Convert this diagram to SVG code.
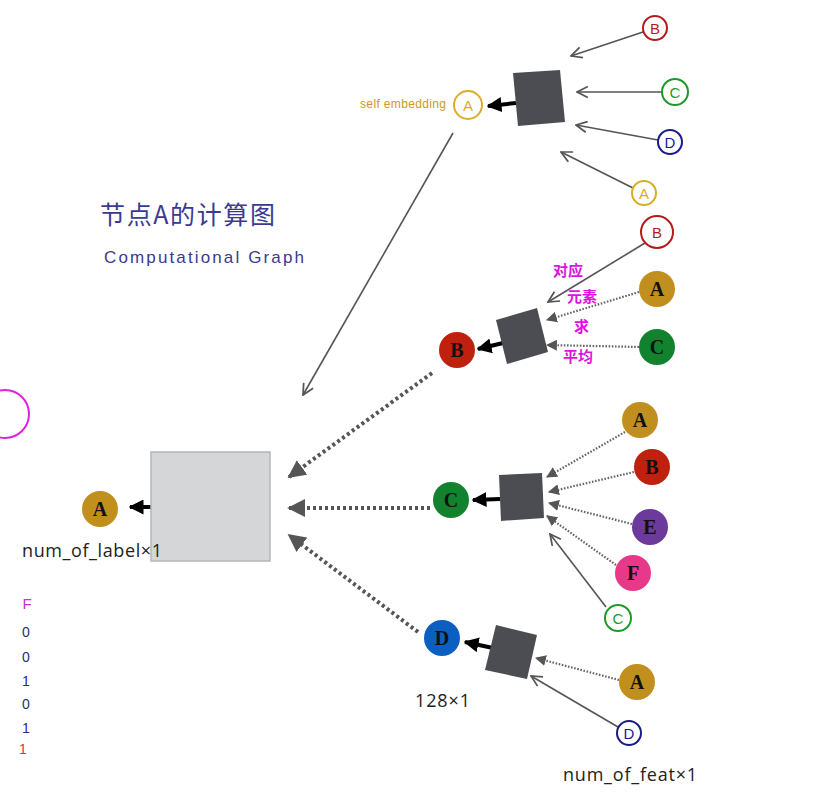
<svg xmlns="http://www.w3.org/2000/svg" width="835" height="804" viewBox="0 0 835 804">
<style>
.hol{fill:#fff;stroke-width:2}
.hl{font-family:"Liberation Sans",Arial,sans-serif;font-size:15px;text-anchor:middle;dominant-baseline:central}
.fl{font-family:"Liberation Serif","Times New Roman",serif;font-weight:bold;font-size:20px;text-anchor:middle;dominant-baseline:central;fill:#111}
.sq{fill:#4b4d53}
.thin{stroke:#555;stroke-width:1.6;fill:none;marker-end:url(#chev)}
.dot{stroke:#666;stroke-width:2.2;stroke-dasharray:1.6 1.6;fill:none;marker-end:url(#tri)}
.big{stroke:#555;stroke-width:4;stroke-dasharray:3 3;fill:none;marker-end:url(#bigtri)}
.out{stroke:#000;stroke-width:4;fill:none;marker-end:url(#blk)}
.lab{font-family:"Open Sans","Noto Sans",sans-serif;font-size:18px;fill:#222}
.mg{font-family:"Noto Sans CJK SC",sans-serif;font-size:15px;fill:#e010e0;font-weight:bold}
.col{font-family:"Liberation Sans",sans-serif;font-size:14px;fill:#2a2a80;text-anchor:middle}
</style>
<defs>
<marker id="chev" viewBox="0 0 12 12" refX="11" refY="6" markerWidth="13" markerHeight="13" markerUnits="userSpaceOnUse" orient="auto"><path d="M1,1 L11,6 L1,11" fill="none" stroke="#555" stroke-width="1.6"/></marker>
<marker id="tri" viewBox="0 0 10 10" refX="9" refY="5" markerWidth="11" markerHeight="11" markerUnits="userSpaceOnUse" orient="auto"><path d="M0,0 L10,5 L0,10 z" fill="#555"/></marker>
<marker id="bigtri" viewBox="0 0 10 10" refX="9" refY="5" markerWidth="18" markerHeight="18" markerUnits="userSpaceOnUse" orient="auto"><path d="M0,0 L10,5 L0,10 z" fill="#555"/></marker>
<marker id="blk" viewBox="0 0 10 10" refX="9" refY="5" markerWidth="15" markerHeight="15" markerUnits="userSpaceOnUse" orient="auto"><path d="M0,0 L10,5 L0,10 z" fill="#000"/></marker>
</defs>
<rect width="835" height="804" fill="#fff"/>

<g id="connectors">
<line class="thin" x1="643" y1="32" x2="571" y2="56"/>
<line class="thin" x1="662" y1="92" x2="577" y2="92"/>
<line class="thin" x1="658" y1="140" x2="576" y2="125"/>
<line class="thin" x1="633" y1="188" x2="561" y2="152"/>
<line class="out" x1="516" y1="103" x2="488" y2="106"/>
<line class="thin" x1="453" y1="133" x2="303" y2="395"/>

<line class="thin" x1="645" y1="243" x2="548" y2="302"/>
<line class="dot" x1="639" y1="292" x2="547" y2="320"/>
<line class="dot" x1="639" y1="347" x2="547" y2="345"/>
<line class="out" x1="503" y1="343" x2="478" y2="349"/>

<line class="dot" x1="625" y1="432" x2="547" y2="477"/>
<line class="dot" x1="634" y1="472" x2="549" y2="492"/>
<line class="dot" x1="632" y1="524" x2="549" y2="503"/>
<line class="dot" x1="616" y1="565" x2="547" y2="516"/>
<line class="thin" x1="606" y1="607" x2="550" y2="534"/>
<line class="out" x1="500" y1="499" x2="473" y2="500"/>

<line class="dot" x1="619" y1="680" x2="536" y2="658"/>
<line class="thin" x1="618" y1="727" x2="531" y2="676"/>
<line class="out" x1="493" y1="648" x2="465" y2="642"/>

<line class="big" x1="432" y1="373" x2="289" y2="477"/>
<line class="big" x1="430" y1="508" x2="289" y2="508"/>
<line class="big" x1="418" y1="632" x2="289" y2="535"/>
<line class="out" x1="151" y1="507" x2="130" y2="507"/>
</g>

<g id="top-agg"><polygon class="sq" points="513,73 560,70 565,122 518,126"/></g>
<g id="top-A"><circle class="hol" cx="468" cy="105" r="14" stroke="#d9ad2a"/><text class="hl" x="468" y="105" fill="#d9ad2a">A</text></g>
<g id="top-B"><circle class="hol" cx="655" cy="28" r="12" stroke="#b31b1b"/><text class="hl" x="655" y="28" fill="#b31b1b">B</text></g>
<g id="top-C"><circle class="hol" cx="675" cy="92" r="13" stroke="#1e9a2a"/><text class="hl" x="675" y="92" fill="#1e9a2a">C</text></g>
<g id="top-D"><circle class="hol" cx="670" cy="142" r="12" stroke="#1a1a8a"/><text class="hl" x="670" y="142" fill="#1a1a8a">D</text></g>
<g id="top-A2"><circle class="hol" cx="644" cy="193" r="12" stroke="#d9ad2a"/><text class="hl" x="644" y="193" fill="#d9ad2a">A</text></g>
<text x="360" y="108" font-family="Liberation Sans,sans-serif" font-size="12" fill="#c99a1e" textLength="86">self embedding</text>

<g id="title">
<text x="100" y="224" font-family="'Noto Sans CJK SC',sans-serif" font-size="25" fill="#3b3a90" textLength="175">节点A的计算图</text>
<text x="104" y="263" font-family="'Liberation Sans',sans-serif" font-size="17" fill="#3b3a90" textLength="200">Computational Graph</text>
</g>

<g id="B-agg"><polygon class="sq" points="496,320 537,308 548,352 507,364"/></g>
<g id="B"><circle cx="457" cy="350" r="18" fill="#c0200e"/><text class="fl" x="457" y="350">B</text></g>
<g id="B-nb-B"><circle class="hol" cx="657" cy="232" r="16" stroke="#b31b1b"/><text class="hl" x="657" y="232" fill="#b31b1b" font-size="18">B</text></g>
<g id="B-nb-A"><circle cx="657" cy="289" r="18" fill="#c18f1e"/><text class="fl" x="657" y="289">A</text></g>
<g id="B-nb-C"><circle cx="657" cy="347" r="18" fill="#12822e"/><text class="fl" x="657" y="347">C</text></g>
<g id="note">
<text class="mg" x="553" y="276">对应</text>
<text class="mg" x="567" y="302">元素</text>
<text class="mg" x="574" y="332">求</text>
<text class="mg" x="563" y="362">平均</text>
</g>

<g id="C-agg"><polygon class="sq" points="499,475 542,473 544,518 501,521"/></g>
<g id="C"><circle cx="451" cy="500" r="18" fill="#12822e"/><text class="fl" x="451" y="500">C</text></g>
<g id="C-nb-A"><circle cx="640" cy="420" r="18" fill="#c18f1e"/><text class="fl" x="640" y="420">A</text></g>
<g id="C-nb-B"><circle cx="652" cy="467" r="18" fill="#c0200e"/><text class="fl" x="652" y="467">B</text></g>
<g id="C-nb-E"><circle cx="650" cy="527" r="18" fill="#6b3a9a"/><text class="fl" x="650" y="527">E</text></g>
<g id="C-nb-F"><circle cx="633" cy="573" r="18" fill="#e8388a"/><text class="fl" x="633" y="573">F</text></g>
<g id="C-nb-C"><circle class="hol" cx="618" cy="618" r="13" stroke="#1e9a2a"/><text class="hl" x="618" y="618" fill="#1e9a2a">C</text></g>

<g id="D-agg"><polygon class="sq" points="496,625 537,635 527,679 485,670"/></g>
<g id="D"><circle cx="442" cy="638" r="18" fill="#0b5fc0"/><text class="fl" x="442" y="638">D</text></g>
<g id="D-nb-A"><circle cx="637" cy="682" r="18" fill="#c18f1e"/><text class="fl" x="637" y="682">A</text></g>
<g id="D-nb-D"><circle class="hol" cx="629" cy="733" r="12" stroke="#1a1a8a"/><text class="hl" x="629" y="733" fill="#1a1a8a">D</text></g>
<text class="lab" x="415" y="707" textLength="55">128×1</text>
<text class="lab" x="563" y="781" textLength="134">num_of_feat×1</text>

<g id="main-agg"><rect x="151" y="452" width="119" height="109" fill="#d5d6d8" stroke="#b5b6b8" stroke-width="1.5"/></g>
<g id="A"><circle cx="100" cy="509" r="18" fill="#c18f1e"/><text class="fl" x="100" y="509">A</text></g>
<text class="lab" x="22" y="557" textLength="140">num_of_label×1</text>

<circle cx="5" cy="414" r="24" fill="none" stroke="#e020e0" stroke-width="2"/>
<g id="vector">
<text x="27" y="609" font-family="Liberation Sans,sans-serif" font-size="15" fill="#d030d0" text-anchor="middle">F</text>
<text class="col" x="26" y="637">0</text>
<text class="col" x="26" y="662">0</text>
<text class="col" x="26" y="686">1</text>
<text class="col" x="26" y="709">0</text>
<text class="col" x="26" y="733">1</text>
<text class="col" x="23" y="754" style="fill:#c04040">1</text>
</g>
</svg>
